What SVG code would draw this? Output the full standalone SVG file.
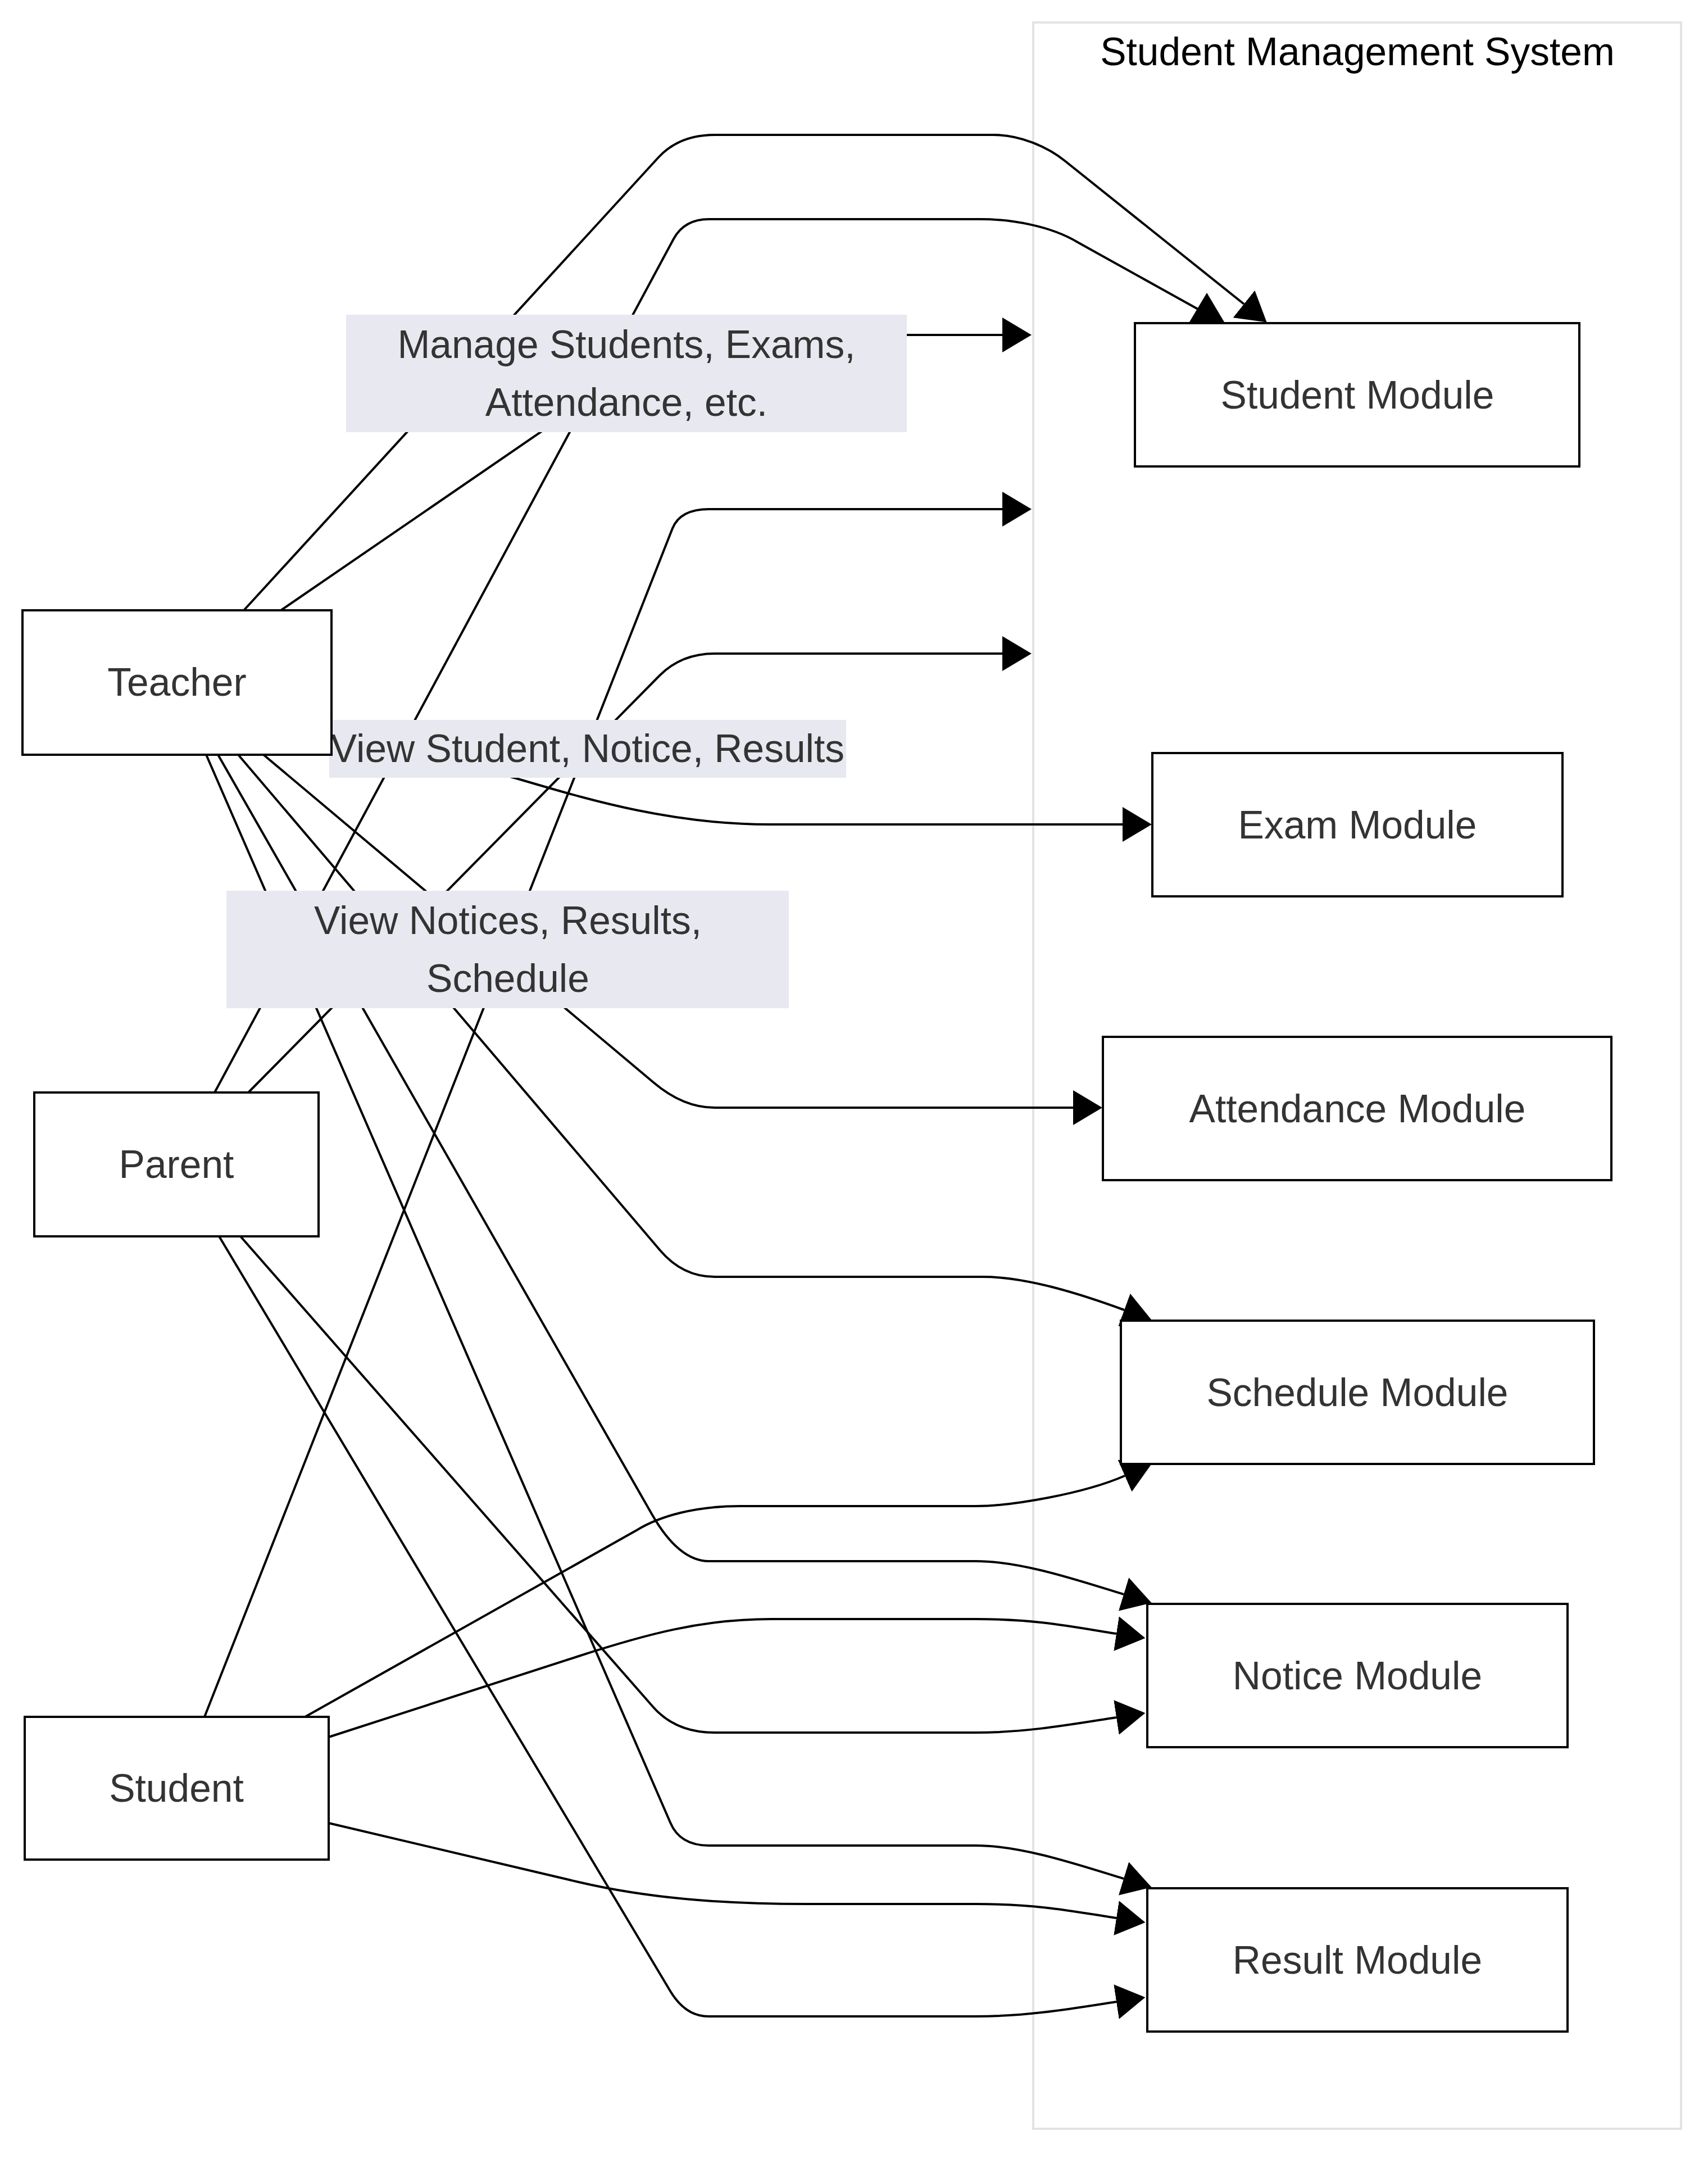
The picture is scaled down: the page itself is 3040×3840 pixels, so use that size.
<svg xmlns="http://www.w3.org/2000/svg" width="3040" height="3840" viewBox="0 0 3040 3840">
  <defs>
    <style>
      .cluster rect { fill: #ffffff; stroke: #e3e3e3; stroke-width: 4; }
      .cluster text { font-family: "Liberation Sans", Arial, sans-serif; font-size: 69.5px; fill: #000000; text-anchor: middle; }
      .node rect { fill: #ffffff; stroke: #000000; stroke-width: 4; }
      .node text, .edge-label text { font-family: "Liberation Sans", Arial, sans-serif; font-size: 69.5px; fill: #333333; text-anchor: middle; }
      .edge { fill: none; stroke: #000000; stroke-width: 4; marker-end: url(#arrowhead); }
      .edge-label rect { fill: #e8e8f0; }
    </style>
    <marker id="arrowhead" viewBox="0 0 52 62" refX="0" refY="31" markerWidth="52" markerHeight="62" markerUnits="userSpaceOnUse" orient="auto">
      <path d="M0,0 L52,31 L0,62 z" fill="#000000"/>
    </marker>
  </defs>

  <rect x="0" y="0" width="3040" height="3840" fill="#ffffff"/>

  <!-- subgraph frame -->
  <g id="cluster-student-management-system" class="cluster">
    <rect x="1839" y="40" width="1153" height="3748"/>
    <text x="2416" y="116">Student Management System</text>
  </g>

  <!-- connectors -->
  <g id="connectors">
    <!-- Teacher -> Student Module -->
    <path class="edge" d="M 434 1086 L 1172 280 Q 1209 240 1272 240 L 1769 240 C 1815 240 1864 261 1895 286 L 2214 541"/>
    <!-- Teacher -> system (labelled) -->
    <path class="edge" d="M 500 1086 L 1115 664 Q 1160 596 1262 596 L 1784 596"/>
    <!-- Parent -> Student Module -->
    <path class="edge" d="M 382 1944 L 1199 425 Q 1218 390 1262 390 L 1745 390 C 1800 390 1870 402 1918 431 L 2132 550 L 2148 578 L 2148 573"/>
    <!-- Student -> system (labelled) -->
    <path class="edge" d="M 364 3055 L 1197 940 Q 1211 906 1262 906 L 1784 906"/>
    <!-- Parent -> system (labelled) -->
    <path class="edge" d="M 442 1944 L 1174 1202 Q 1213 1163 1272 1163 L 1784 1163"/>
    <!-- Teacher -> Exam Module -->
    <path class="edge" d="M 590 1292 L 915 1384 C 1020 1414 1180 1467 1369 1467 L 1998 1467"/>
    <!-- Teacher -> Attendance Module -->
    <path class="edge" d="M 469 1343 L 1163 1926 Q 1216 1971 1272 1971 L 1910 1971"/>
    <!-- Teacher -> Schedule Module -->
    <path class="edge" d="M 424 1343 L 1175 2225 Q 1215 2272 1272 2272 L 1750 2272 C 1830 2272 1930 2305 2001 2331"/>
    <!-- Teacher -> Notice Module -->
    <path class="edge" d="M 388 1343 L 1160 2694 Q 1208 2778 1262 2778 L 1737 2778 C 1820 2778 1925 2814 2000 2837"/>
    <!-- Teacher -> Result Module -->
    <path class="edge" d="M 367 1343 L 1193 3243 Q 1210 3284 1262 3284 L 1737 3284 C 1820 3284 1925 3320 2000 3343"/>
    <!-- Parent -> Notice Module -->
    <path class="edge" d="M 428 2200 L 1163 3038 Q 1203 3083 1272 3083 L 1737 3083 C 1830 3083 1915 3067 1987 3056"/>
    <!-- Parent -> Result Module -->
    <path class="edge" d="M 390 2200 L 1193 3543 Q 1220 3588 1261 3588 L 1737 3588 C 1830 3588 1915 3573 1987 3562"/>
    <!-- Student -> Schedule Module -->
    <path class="edge" d="M 543 3055 L 1133 2723 C 1175 2697 1240 2680 1316 2680 L 1737 2680 C 1800 2680 1929 2658 2002 2626"/>
    <!-- Student -> Notice Module -->
    <path class="edge" d="M 585 3091 L 1030 2947 C 1150 2908 1250 2881 1372 2881 L 1737 2881 C 1850 2881 1915 2896 1987 2907"/>
    <!-- Student -> Result Module -->
    <path class="edge" d="M 585 3244 L 1030 3349 C 1150 3377 1280 3388 1434 3388 L 1737 3388 C 1850 3388 1915 3402 1987 3413"/>
  </g>

  <!-- edge labels -->
  <g id="edge-labels">
    <g id="label-teacher-system" class="edge-label">
      <rect x="616" y="560" width="998" height="209"/>
      <text x="1115" y="637">Manage Students, Exams,</text>
      <text x="1115" y="740">Attendance, etc.</text>
    </g>
    <g id="label-parent-system" class="edge-label">
      <rect x="586" y="1281" width="920" height="103"/>
      <text x="1046" y="1356">View Student, Notice, Results</text>
    </g>
    <g id="label-student-system" class="edge-label">
      <rect x="403" y="1585" width="1001" height="209"/>
      <text x="904" y="1662">View Notices, Results,</text>
      <text x="904" y="1765">Schedule</text>
    </g>
  </g>

  <!-- actors -->
  <g id="node-teacher" class="node">
    <rect x="40" y="1086" width="550" height="257"/>
    <text x="315" y="1238">Teacher</text>
  </g>
  <g id="node-parent" class="node">
    <rect x="61" y="1944" width="506" height="256"/>
    <text x="314" y="2096">Parent</text>
  </g>
  <g id="node-student" class="node">
    <rect x="44" y="3055" width="541" height="254"/>
    <text x="314" y="3206">Student</text>
  </g>

  <!-- modules -->
  <g id="node-student-module" class="node">
    <rect x="2020" y="575" width="791" height="255"/>
    <text x="2416" y="727">Student Module</text>
  </g>
  <g id="node-exam-module" class="node">
    <rect x="2051" y="1340" width="730" height="255"/>
    <text x="2416" y="1492">Exam Module</text>
  </g>
  <g id="node-attendance-module" class="node">
    <rect x="1963" y="1845" width="905" height="255"/>
    <text x="2416" y="1997">Attendance Module</text>
  </g>
  <g id="node-schedule-module" class="node">
    <rect x="1995" y="2350" width="842" height="255"/>
    <text x="2416" y="2502">Schedule Module</text>
  </g>
  <g id="node-notice-module" class="node">
    <rect x="2042" y="2854" width="748" height="255"/>
    <text x="2416" y="3006">Notice Module</text>
  </g>
  <g id="node-result-module" class="node">
    <rect x="2042" y="3360" width="748" height="255"/>
    <text x="2416" y="3512">Result Module</text>
  </g>
</svg>
